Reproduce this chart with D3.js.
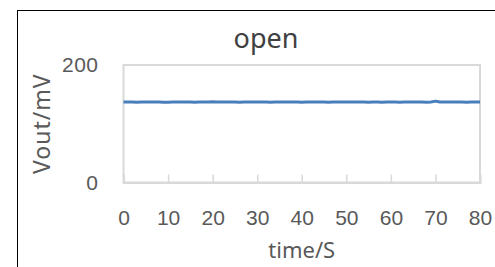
<!DOCTYPE html>
<html>
<head>
<meta charset="utf-8">
<script src="https://cdn.jsdelivr.net/npm/d3@7"></script>
<style>
  body { margin: 0; background: #fff; }
  svg { display: block; font-family: "Noto Sans", "Open Sans", sans-serif; }
</style>
</head>
<body>
<div id="chart"></div>
<script>
// Chart data
const title = "open";
const xLabel = "time/S";
const yLabel = "Vout/mV";
const xTicks = [0, 10, 20, 30, 40, 50, 60, 70, 80];
const yTicks = [0, 200];
const times = d3.range(0, 81, 1);
const vout = [
  137, 137, 137, 136.5, 137, 137, 137, 137, 137, 136.5,
  136.5, 137, 137, 137, 137, 137, 136.5, 137, 137, 137,
  137.5, 137, 137, 137, 137, 137, 136.5, 137, 137, 137,
  137, 137, 137, 136.5, 137, 137, 137, 137, 137, 137,
  136.5, 137, 137, 137, 137, 137, 136.5, 137, 137, 137,
  137, 137, 137, 137, 137, 136.5, 137, 137, 136.5, 137,
  137, 137, 136.5, 137, 137, 137, 137, 137, 136.5, 137,
  138.5, 137, 137, 137, 137, 137, 137, 136.5, 137, 137,
  137
];
const data = times.map((t, i) => ({ t: t, v: vout[i] }));

const W = 495, H = 267;
const plot = { left: 123.5, right: 480, top: 65, bottom: 182.5 };

const svg = d3.select("#chart")
  .append("svg")
  .attr("width", W)
  .attr("height", H);

// outer chart frame (continues past the window)
svg.append("rect")
  .attr("x", 17.5)
  .attr("y", 10.5)
  .attr("width", 600)
  .attr("height", 400)
  .attr("fill", "#fff")
  .attr("stroke", "#000")
  .attr("stroke-width", 1);

const xScale = d3.scaleLinear().domain([0, 80]).range([plot.left, plot.right]);
const yScale = d3.scaleLinear().domain([0, 200]).range([plot.bottom, plot.top]);

// plot area box
svg.append("rect")
  .attr("x", plot.left)
  .attr("y", plot.top)
  .attr("width", plot.right - plot.left)
  .attr("height", plot.bottom - plot.top)
  .attr("fill", "none")
  .attr("stroke", "#d9d9d9")
  .attr("stroke-width", 2);

// x axis: inside ticks, labels below
const xAxis = svg.append("g")
  .attr("transform", `translate(0,${plot.bottom})`)
  .call(d3.axisBottom(xScale).tickValues(xTicks).tickSize(-8).tickPadding(28));
xAxis.select(".domain").attr("stroke", "#d9d9d9").attr("stroke-width", 2);
xAxis.selectAll(".tick line").attr("stroke", "#d9d9d9").attr("stroke-width", 1.5);
xAxis.selectAll(".tick text")
  .attr("fill", "#595959")
  .style("font-size", "21px");

// y axis: labels only
const yAxis = svg.append("g")
  .attr("transform", `translate(${plot.left},0)`)
  .call(d3.axisLeft(yScale).tickValues(yTicks).tickSize(0).tickPadding(25));
yAxis.select(".domain").remove();
yAxis.selectAll(".tick text")
  .attr("fill", "#595959")
  .style("font-size", "21px")
  .style("letter-spacing", "0.5px");

// series line
const line = d3.line()
  .x(d => xScale(d.t))
  .y(d => yScale(d.v));

svg.append("path")
  .datum(data)
  .attr("fill", "none")
  .attr("stroke", "#4a7ebb")
  .attr("stroke-width", 3)
  .attr("stroke-linejoin", "round")
  .attr("d", line);

// title
svg.append("text")
  .attr("x", 266)
  .attr("y", 48)
  .attr("text-anchor", "middle")
  .attr("fill", "#404040")
  .style("font-size", "27px")
  .text(title);

// x-axis label
svg.append("text")
  .attr("x", (plot.left + plot.right) / 2)
  .attr("y", 258)
  .attr("text-anchor", "middle")
  .attr("fill", "#595959")
  .style("font-size", "22px")
  .text(xLabel);

// y-axis label
svg.append("text")
  .attr("transform", `translate(50,${(plot.top + plot.bottom) / 2}) rotate(-90)`)
  .attr("text-anchor", "middle")
  .attr("fill", "#595959")
  .style("font-size", "23px")
  .style("letter-spacing", "1px")
  .text(yLabel);
</script>
</body>
</html>
